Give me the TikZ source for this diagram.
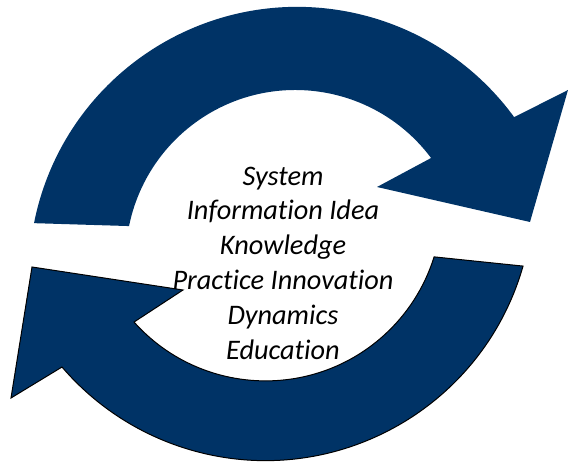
\documentclass[tikz,border=0pt]{standalone}
\usepackage{fontspec}
\setmainfont[Ligatures=NoCommon]{Carlito}
\usetikzlibrary{calc}
\definecolor{qqzzcc}{RGB}{0,51,102}
\tikzset{arrowband/.style={fill=qqzzcc,line width=1pt,line join=miter}}

\begin{document}
\begin{tikzpicture}[line cap=round,line join=round,x=1pt,y=1pt]
\useasboundingbox (0,0) rectangle (568,462);
\coordinate (topout) at (297.3,186.7);
\coordinate (topin) at (295.3,202.4);
\coordinate (botout) at (265.4,269.3);
\coordinate (botin) at (265.6,257.6);
\fill [arrowband] ($(topout)+(168.8:268.4pt)$) arc [start angle=168.8,end angle=36.1,radius=268.4pt] -- (568,372) -- (530,240) -- (377,275) -- ($(topin)+(36.8:169.6pt)$) arc [start angle=36.8,end angle=168.6,radius=169.6pt] -- cycle;
\filldraw [arrowband] ($(botin)+(-17.3:176.5pt)$) -- ($(botout)+(-15.9:267.9pt)$) arc [start angle=-15.9,end angle=-139.4,radius=267.9pt] -- (11,64) -- (32,195) -- (183,172) -- ($(botin)+(-138.2:176.5pt)$) arc [start angle=-138.2,end angle=-17.3,radius=176.5pt] -- cycle;
\node [font=\fontsize{28.3}{34.8}\selectfont\itshape,align=center] (words) at (283,199) {System\\Information Idea\\Knowledge\\Practice Innovation\\Dynamics\\Education};
\end{tikzpicture}
\end{document}
